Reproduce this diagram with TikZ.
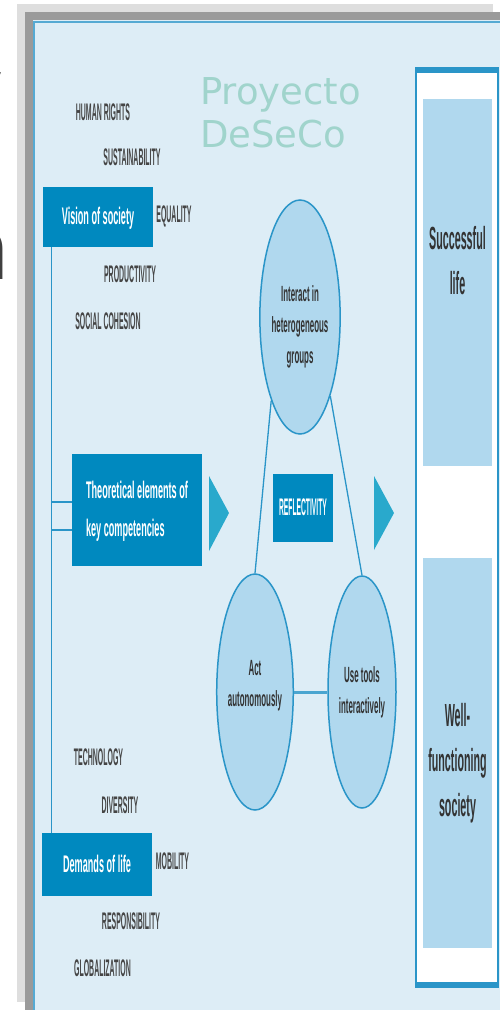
\documentclass[tikz,border=0pt]{standalone}
\usepackage{fontspec}
\setmainfont{Liberation Sans}
\newfontfamily\titlefont{DejaVu Sans}
\usetikzlibrary{shapes.geometric}

\definecolor{slidebg}{HTML}{DDEDF6}
\definecolor{shadowlight}{HTML}{DEDEDE}
\definecolor{shadowdark}{HTML}{9A9A9A}
\definecolor{boxblue}{HTML}{0089BF}
\definecolor{lineblue}{HTML}{2A95C8}
\definecolor{arrowblue}{HTML}{29A9CC}
\definecolor{paleblue}{HTML}{B0D8EE}
\definecolor{labelgray}{HTML}{454545}
\definecolor{titleteal}{HTML}{A0D4CC}

% narrow (condensed) text
\newcommand{\squeeze}[2]{\scalebox{#1}[1]{\begin{tabular}{@{}c@{}}#2\end{tabular}}}
\newcommand{\squeezel}[2]{\scalebox{#1}[1]{\begin{tabular}{@{}l@{}}#2\end{tabular}}}
% move text up/down inside its node
\newcommand{\nudge}[2]{\raisebox{#1}[\height][\depth]{#2}}

\tikzset{
  value/.style={inner sep=0pt, text=labelgray, font=\fontsize{24}{28}\selectfont\bfseries},
  bluebox/.style={fill=boxblue, text=white, inner sep=0pt, font=\fontsize{24}{38}\selectfont\bfseries},
  competence/.style={ellipse, draw=lineblue, line width=1.5pt, fill=paleblue, inner sep=0pt,
    text=black!80, font=\fontsize{22}{31}\selectfont\bfseries},
  outcome/.style={fill=paleblue, inner sep=0pt, minimum width=69pt,
    text=black!80, font=\fontsize{32}{45}\selectfont\bfseries},
  link/.style={draw=lineblue, line width=1.3pt},
  pointer/.style={fill=arrowblue},
  title/.style={inner sep=0pt, text=titleteal, font=\titlefont\fontsize{37}{43}\selectfont},
  fragment/.style={inner sep=0pt, text=black!75}
}

\begin{document}
\begin{tikzpicture}[x=1pt, y=-1pt]
    \useasboundingbox (0,0) rectangle (500,1010);
    % slide frame
    \fill[shadowlight] (17,4) rectangle (493,1002);
    \fill[shadowdark] (25,12) rectangle (500,1010);
    \fill[slidebg] (33,20) rectangle (500,1010);
    \draw[lineblue!80, line width=2pt] (34,1010) -- (34,22) -- (500,22);
    % cut letters at the edge
    \node[fragment, anchor=base west, font=\fontsize{30}{30}\selectfont] (cut y) at (-14,88) {y};
    \node[fragment, anchor=base west, font=\fontsize{90}{90}\selectfont\bfseries] (cut n) at (-47,279) {n};

    \node[title, anchor=base west] (proyecto) at (200,104) {Proyecto};
    \node[title, anchor=base west] (deseco) at (200,147) {DeSeCo};

    % vision of society
    \node[bluebox, minimum width=110pt, minimum height=60pt] (vision) at (98,217) {\squeeze{0.38}{Vision of society}};
    \node[value] (rights) at (103,115) {\squeeze{0.29}{HUMAN RIGHTS}};
    \node[value] (sustain) at (132,160) {\squeeze{0.29}{SUSTAINABILITY}};
    \node[value] (equality) at (174,217) {\squeeze{0.29}{EQUALITY}};
    \node[value] (product) at (130,277) {\squeeze{0.29}{PRODUCTIVITY}};
    \node[value] (cohesion) at (108,324) {\squeeze{0.29}{SOCIAL COHESION}};

    % demands of life
    \node[bluebox, minimum width=110pt, minimum height=63pt] (demands) at (97,864.5) {\squeeze{0.38}{Demands of life}};
    \node[value] (techno) at (98.5,760) {\squeeze{0.29}{TECHNOLOGY}};
    \node[value] (divers) at (120,808) {\squeeze{0.29}{DIVERSITY}};
    \node[value] (mobility) at (172.5,864) {\squeeze{0.29}{MOBILITY}};
    \node[value] (respons) at (131,924) {\squeeze{0.29}{RESPONSIBILITY}};
    \node[value] (global) at (102.5,971) {\squeeze{0.29}{GLOBALIZATION}};

    % theoretical elements
    \node[bluebox, minimum width=130pt, minimum height=112pt] (theory) at (137,510) {\squeezel{0.38}{Theoretical elements of\\key competencies}};
    \coordinate (spine top) at ([xshift=9pt]vision.south west);
    \draw[link] (spine top) -- (spine top |- demands.north);
    \coordinate (stub a) at ([yshift=8pt]theory.west);
    \coordinate (stub b) at ([yshift=-20pt]theory.west);
    \draw[link] (spine top |- stub a) -- (stub a);
    \draw[link] (spine top |- stub b) -- (stub b);

    % competencies
    \node[competence, minimum width=70pt, minimum height=234pt] (interact) at (300,317) {\nudge{-9pt}{\squeeze{0.36}{Interact in\\heterogeneous\\groups}}};
    \node[competence, minimum width=70pt, minimum height=236pt] (act) at (255,692) {\nudge{7pt}{\squeeze{0.36}{Act\\autonomously}}};
    \node[competence, minimum width=68pt, minimum height=232pt] (tools) at (362,692) {\squeeze{0.36}{Use tools\\interactively}};
    \draw[link] (interact.251) -- (act.north);
    \draw[link] (interact.291) -- (tools.north);
    \draw[link, line width=3pt, lineblue!85] (act.east) -- (tools.west);
    \node[bluebox, minimum width=60pt, minimum height=68pt] (reflect) at (303,508) {\squeeze{0.28}{REFLECTIVITY}};

    \fill[pointer] (209,476) -- (229,513) -- (209,551) -- cycle;
    \fill[pointer] (374,476) -- (394,513) -- (374,550) -- cycle;

    % outcomes
    \node[fill=white, draw=lineblue, line width=2pt, minimum width=82pt, minimum height=919pt] (results) at (457,527.5) {};
    \fill[lineblue] (results.north west) rectangle ++(82,6);
    \fill[lineblue] (results.south west) rectangle ++(82,-6);
    \node[outcome, minimum height=367pt] (success) at (457.5,282.5) {\nudge{20pt}{\squeeze{0.335}{Successful\\life}}};
    \node[outcome, minimum height=390pt] (society) at (457.5,753) {\nudge{-9pt}{\squeeze{0.335}{Well-\\functioning\\society}}};
\end{tikzpicture}
\end{document}
